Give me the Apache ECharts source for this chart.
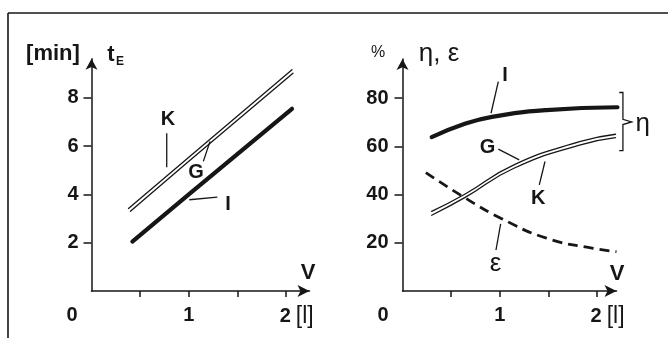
<!DOCTYPE html>
<html>
<head>
<meta charset="utf-8">
<script src="https://cdn.jsdelivr.net/npm/echarts@6/dist/echarts.min.js"></script>
<style>
html, body { margin: 0; background: #fff; }
#main { width: 668px; height: 338px; }
</style>
</head>
<body>
<div id="main"></div>
<script>
// left panel: t_E [min] against V [l]
var leftI = [[0.42, 2.05], [1.0, 4.0], [2.06, 7.55]];
var leftK = [[0.38, 3.42], [1.0, 5.54], [2.06, 9.17]];
var leftG = [[0.40, 3.30], [1.0, 5.38], [2.07, 9.02]];
// right panel: eta / epsilon [%] against V [l]
var rightI = [[0.30, 63.8], [0.62, 69.0], [0.92, 72.2], [1.48, 75.0], [2.21, 76.2]];
var rightG = [[0.30, 33.0], [0.64, 40.1], [1.14, 52.2], [1.82, 61.9], [2.19, 65.0]];
var rightK = [[0.30, 31.4], [0.64, 38.7], [1.14, 50.8], [1.82, 60.5], [2.19, 63.6]];
var rightEps = [[0.24, 49.1], [0.64, 38.7], [1.01, 30.2], [1.48, 21.9], [1.96, 17.7], [2.2, 16.3]];
// ticks
var xTicks = [0.5, 1, 1.5, 2];
var xLabels = [0, 1, 2];
var leftYTicks = [2, 4, 6, 8];
var rightYTicks = [20, 40, 60, 80];

var ink = '#161616';
var font = 'Liberation Sans';

var chart = echarts.init(document.getElementById('main'), null, { renderer: 'canvas' });

function xAxis(gi, max) {
    return {
        type: 'value', gridIndex: gi, min: 0, max: max, interval: 0.5,
        splitLine: { show: false },
        axisLine: { lineStyle: { color: ink, width: 1.5 }, symbol: ['none', 'arrow'], symbolSize: [9, 12] },
        axisTick: { customValues: xTicks, length: 6, lineStyle: { color: ink, width: 1.5 } },
        axisLabel: {
            customValues: xLabels, margin: 14, color: ink,
            fontSize: 20, fontFamily: font, fontWeight: 'bold',
            formatter: function (v) {
                if (v === 0) return '{z|0}';
                if (v === 2) return '{t|2}{u|[l]}';
                return v;
            },
            rich: {
                z: { fontSize: 20, fontFamily: font, fontWeight: 'bold', color: ink, padding: [0, 39, 0, 0] },
                t: { fontSize: 20, fontFamily: font, fontWeight: 'bold', color: ink, padding: [0, 0, 0, 21] },
                u: { fontSize: 23, fontFamily: font, fontWeight: 'normal', color: ink, padding: [0, 0, 0, 5] }
            }
        }
    };
}

function yAxis(gi, max, ticks, margin) {
    return {
        type: 'value', gridIndex: gi, min: 0, max: max,
        splitLine: { show: false },
        axisLine: { lineStyle: { color: ink, width: 1.5 }, symbol: ['none', 'arrow'], symbolSize: [9, 11] },
        axisTick: { customValues: ticks, length: 8, lineStyle: { color: ink, width: 1.5 } },
        axisLabel: { customValues: ticks, margin: margin, color: ink, fontSize: 20, fontFamily: font, fontWeight: 'bold' }
    };
}

function line(gi, data, kind) {
    var s = {
        type: 'line', xAxisIndex: gi, yAxisIndex: gi, data: data,
        symbol: 'none', clip: false, silent: true,
        lineStyle: { color: ink, width: 1.3, cap: 'round' }
    };
    if (kind === 'thick') s.lineStyle.width = 4.2;
    if (kind === 'dash') { s.lineStyle.width = 2.8; s.lineStyle.type = [10, 6]; s.lineStyle.cap = 'butt'; }
    if (gi === 1) s.smooth = 0.5;
    return s;
}

chart.setOption({
    backgroundColor: '#fff',
    animation: false,
    grid: [
        { left: 91.5, top: 58.8, width: 218, height: 232.2 },
        { left: 402.5, top: 59, width: 214, height: 232 }
    ],
    xAxis: [xAxis(0, 2.24), xAxis(1, 2.2)],
    yAxis: [yAxis(0, 9.62, leftYTicks, 13), yAxis(1, 96.2, rightYTicks, 14)],
    series: [
        line(0, leftK, 'thin'),
        line(0, leftG, 'thin'),
        line(0, leftI, 'thick'),
        line(1, rightG, 'thin'),
        line(1, rightK, 'thin'),
        line(1, rightI, 'thick'),
        line(1, rightEps, 'dash')
    ]
});

// curve labels and their leader lines, in data units of each panel
var notes = [
    { g: 0, at: [0.786, 7.10], text: 'K' },
    { g: 0, at: [1.074, 4.90], text: 'G' },
    { g: 0, at: [1.403, 3.57], text: 'I' },
    { g: 1, at: [1.053, 89.2], text: 'I' },
    { g: 1, at: [0.874, 59.5], text: 'G' },
    { g: 1, at: [1.396, 38.5], text: 'K' },
    { g: 1, at: [0.956, 11.2], text: 'ε', size: 26, weight: 'normal' },
    { g: 1, at: [2.47, 69.3], text: 'η', size: 26, weight: 'normal' }
];
var leaders = [
    { g: 0, from: [0.773, 6.54], to: [0.773, 5.13] },
    { g: 0, from: [1.149, 5.37], to: [1.218, 6.20] },
    { g: 0, from: [1.005, 3.78], to: [1.293, 3.89] },
    { g: 1, from: [0.985, 86.8], to: [0.91, 73.7] },
    { g: 1, from: [0.985, 58.8], to: [1.2, 54.4] },
    { g: 1, from: [1.406, 44.0], to: [1.465, 53.7] },
    { g: 1, from: [0.961, 17.0], to: [1.009, 27.8] }
];
// brace grouping the eta curves
var brace = [[2.228, 82.3], [2.266, 82.3], [2.266, 71.2], [2.356, 70.1], [2.266, 69.0], [2.266, 58.2], [2.228, 58.2]];

function px(g, p) { return chart.convertToPixel({ gridIndex: g }, p); }

var gfx = [
    { type: 'line', shape: { x1: 8, y1: 13, x2: 668, y2: 13 }, style: { stroke: ink, lineWidth: 1.6 } },
    { type: 'line', shape: { x1: 8, y1: 13, x2: 8, y2: 338 }, style: { stroke: ink, lineWidth: 1.6 } },
    { type: 'text', x: 53, y: 54, style: { text: '[min]', fill: ink, fontSize: 22, fontFamily: font, fontWeight: 'bold', align: 'center', verticalAlign: 'middle' } },
    { type: 'text', x: 111, y: 55, style: { text: 't', fill: ink, fontSize: 22, fontFamily: font, fontWeight: 'bold', align: 'center', verticalAlign: 'middle' } },
    { type: 'text', x: 120, y: 62, style: { text: 'E', fill: ink, fontSize: 12, fontFamily: font, fontWeight: 'bold', align: 'center', verticalAlign: 'middle' } },
    { type: 'text', x: 308, y: 273, style: { text: 'V', fill: ink, fontSize: 22, fontFamily: font, fontWeight: 'bold', align: 'center', verticalAlign: 'middle' } },
    { type: 'text', x: 378, y: 53, style: { text: '%', fill: ink, fontSize: 16, fontFamily: font, align: 'center', verticalAlign: 'middle' } },
    { type: 'text', x: 439, y: 54, style: { text: 'η, ε', fill: ink, fontSize: 26, fontFamily: font, align: 'center', verticalAlign: 'middle' } },
    { type: 'text', x: 617, y: 274, style: { text: 'V', fill: ink, fontSize: 22, fontFamily: font, fontWeight: 'bold', align: 'center', verticalAlign: 'middle' } }
];
notes.forEach(function (n) {
    var p = px(n.g, n.at);
    gfx.push({ type: 'text', x: p[0], y: p[1], style: {
        text: n.text, fill: ink, fontSize: n.size || 20, fontFamily: font,
        fontWeight: n.weight || 'bold', align: 'center', verticalAlign: 'middle' } });
});
leaders.forEach(function (l) {
    var a = px(l.g, l.from), b = px(l.g, l.to);
    gfx.push({ type: 'line', shape: { x1: a[0], y1: a[1], x2: b[0], y2: b[1] }, style: { stroke: ink, lineWidth: 1.3 } });
});
gfx.push({ type: 'polyline', shape: { points: brace.map(function (p) { return px(1, p); }) },
    style: { stroke: ink, lineWidth: 1.3, fill: null } });

chart.setOption({ graphic: gfx });
</script>
</body>
</html>
